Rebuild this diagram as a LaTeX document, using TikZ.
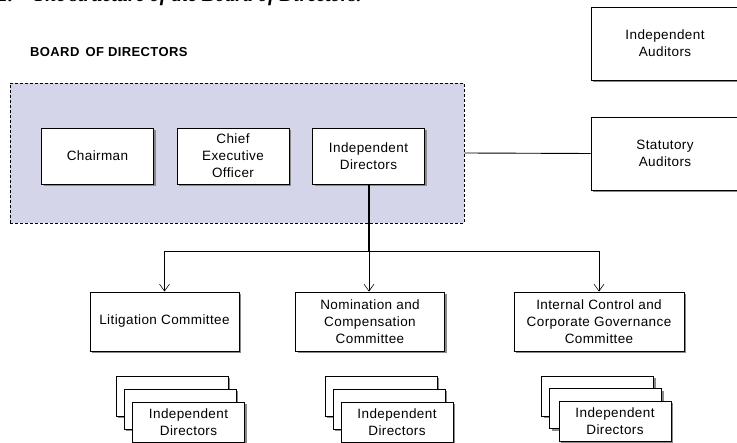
\documentclass[tikz,border=0pt]{standalone}
\usepackage{fontspec}
\setmainfont{Liberation Sans}[LetterSpace=3]
\newfontfamily\captionserif{Liberation Serif}
\usetikzlibrary{arrows.meta,shadows}
\definecolor{boardfill}{HTML}{D5D5E9}
\definecolor{shadowgray}{HTML}{8A8A8A}
\tikzset{
  orgbox/.style={draw,fill=white,line width=0.8pt,inner sep=0pt,align=center,
    font=\fontsize{13.5}{17}\selectfont,
    drop shadow={shadow xshift=2.4pt,shadow yshift=-2.4pt,fill=shadowgray,opacity=1}},
  boardarea/.style={draw,fill=boardfill,dashed,dash pattern=on 3pt off 2pt,line width=0.7pt,inner sep=0pt},
  link/.style={line width=0.9pt},
  arr/.style={line width=0.6pt,-{Straight Barb[length=7pt,width=10pt]}},
}
\begin{document}
\begin{tikzpicture}[x=1pt,y=-1pt]
      \useasboundingbox (0,0) rectangle (737,443);
      \node[anchor=base west,inner sep=0pt,font=\captionserif\bfseries\itshape\fontsize{20}{22}\selectfont] (caption)
        at (-2,1.5) {1.\quad The structure of the Board of Directors.};
      \node[anchor=base west,inner sep=0pt,font=\bfseries\fontsize{13}{15}\selectfont] (boardtitle)
        at (30,57) {BOARD\, OF DIRECTORS};
      \node[boardarea,minimum width=454pt,minimum height=140pt] (board) at (237,153) {};
      \node[orgbox,minimum width=112pt,minimum height=56pt] (chair) at (97.5,156) {Chairman};
      \node[orgbox,minimum width=112pt,minimum height=56pt] (ceo) at (233,156) {Chief\\Executive\\Officer};
      \node[orgbox,minimum width=112pt,minimum height=56pt] (indep) at (368.5,156) {Independent\\Directors};
      \node[orgbox,minimum width=148pt,minimum height=73pt] (indaud) at (665,43.5) {Independent\\Auditors};
      \node[orgbox,minimum width=148pt,minimum height=73pt] (stataud) at (665,153.5) {Statutory\\Auditors};
      \node[orgbox,minimum width=149pt,minimum height=59pt] (litig) at (164.5,321.5) {Litigation Committee};
      \node[orgbox,minimum width=149pt,minimum height=59pt] (nomin) at (370,321.5) {Nomination and\\Compensation\\Committee};
      \node[orgbox,minimum width=170pt,minimum height=59pt] (icgov) at (599,321.5) {Internal Control and\\Corporate Governance\\Committee};
      \node[orgbox,minimum width=112pt,minimum height=40pt] (litig3) at (172,396) {};
      \node[orgbox,minimum width=112pt,minimum height=40pt] (litig2) at (180,409) {};
      \node[orgbox,minimum width=112pt,minimum height=40pt] (litig1) at (188.5,422) {Independent\\Directors};
      \node[orgbox,minimum width=112pt,minimum height=40pt] (nomin3) at (381,396) {};
      \node[orgbox,minimum width=112pt,minimum height=40pt] (nomin2) at (389,409) {};
      \node[orgbox,minimum width=112pt,minimum height=40pt] (nomin1) at (397,422) {Independent\\Directors};
      \node[orgbox,minimum width=112pt,minimum height=40pt] (icgov3) at (597.5,396) {};
      \node[orgbox,minimum width=112pt,minimum height=40pt] (icgov2) at (605.5,408.5) {};
      \node[orgbox,minimum width=112pt,minimum height=40pt] (icgov1) at (615,421) {Independent\\Directors};
      \coordinate (split) at (369,251);
      \draw[link] (board.east) -- (stataud.west);
      \draw[line width=2pt] (indep.south -| split) -- (split);
      \draw[link] (split -| litig) -- (split -| icgov);
      \draw[arr] (split -| litig) -- (litig.north);
      \draw[arr] (split) -- (split |- nomin.north);
      \draw[arr] (split -| icgov) -- (icgov.north);
    \end{tikzpicture}
\end{document}
